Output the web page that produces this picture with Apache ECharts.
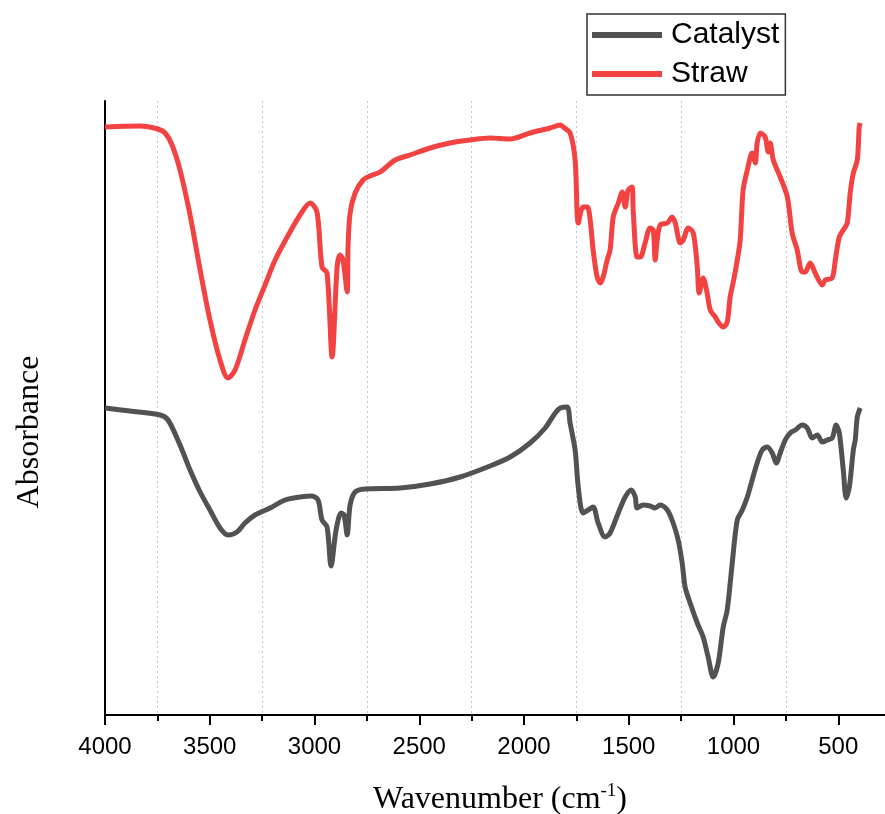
<!DOCTYPE html>
<html lang="en">
<head>
    <meta charset="UTF-8">
    <title>FTIR - Catalyst / Straw</title>
    <style type="text/css">
        *{
            margin: 0;
            padding: 0;
        }
        #main{
            width: 885px;
            height: 814px;
            position: absolute;
        }
    </style>
</head>
<body>
    <div id="main"></div>
    <script src="https://cdn.jsdelivr.net/npm/echarts@6/dist/echarts.min.js"></script>
    <script type="text/javascript">
        var myChart = echarts.init(document.getElementById('main'));

        // 图例 / 系列名
        var seriesNames = ['Catalyst', 'Straw'];
        // x轴刻度 (cm-1)
        var xTicks = [4000, 3500, 3000, 2500, 2000, 1500, 1000, 500];

        // [wavenumber, absorbance(a.u.)]
        var catalyst = [
            [4000,307],[3881,304],[3737,300],[3699,295],[3642,270],[3594,245],[3546,223],[3499,205],
            [3451,187],[3413,180],[3370,183],[3332,192],[3284,200],[3212,207],[3141,215],[3069,218],
            [3012,219],[2983,215],[2964,195],[2940,188],[2921,149],[2897,185],[2873,202],[2859,200],
            [2844,180],[2830,210],[2806,223],[2759,226],[2591,227],[2448,231],[2305,238],[2162,249],
            [2066,258],[1971,272],[1899,287],[1851,302],[1827,307],[1794,308],[1780,292],[1756,265],
            [1741,228],[1718,202],[1694,205],[1670,208],[1646,192],[1613,178],[1589,182],[1550,202],
            [1517,218],[1488,225],[1469,218],[1460,207],[1431,210],[1398,209],[1374,207],[1350,210],
            [1316,205],[1288,192],[1264,175],[1245,152],[1231,128],[1207,112],[1173,92],[1145,78],
            [1121,58],[1097,38],[1073,52],[1049,88],[1030,105],[1006,152],[982,195],[958,205],
            [934,218],[911,235],[887,252],[863,265],[839,268],[815,262],[796,252],[777,262],
            [753,275],[729,282],[705,285],[672,290],[648,287],[624,277],[600,280],[576,273],
            [552,275],[529,277],[510,290],[495,282],[476,245],[462,217],[447,228],[428,265],
            [419,275],[409,298],[395,307]
        ];
        var straw = [
            [4000,588],[3833,589],[3747,586],[3713,582],[3680,570],[3642,545],[3594,500],[3546,445],
            [3499,395],[3451,355],[3413,337],[3379,345],[3332,375],[3284,405],[3236,430],[3188,455],
            [3117,483],[3069,500],[3021,512],[2988,503],[2964,448],[2940,442],[2916,358],[2892,448],
            [2878,460],[2864,455],[2844,423],[2840,468],[2830,502],[2806,522],[2768,535],[2735,539],
            [2687,543],[2615,555],[2544,560],[2448,567],[2353,572],[2257,575],[2162,577],[2066,576],
            [1971,582],[1875,587],[1827,590],[1813,588],[1780,582],[1756,555],[1741,492],[1718,508],
            [1698,508],[1684,495],[1670,465],[1651,438],[1636,432],[1622,438],[1603,455],[1589,465],
            [1574,498],[1550,512],[1531,523],[1517,508],[1503,525],[1484,528],[1479,505],[1460,458],
            [1445,458],[1422,472],[1398,487],[1383,485],[1374,455],[1364,475],[1350,490],[1316,492],
            [1293,498],[1278,492],[1254,472],[1240,475],[1216,487],[1192,482],[1173,448],[1164,422],
            [1145,437],[1126,422],[1111,405],[1087,398],[1073,393],[1049,388],[1030,393],[1016,418],
            [1001,433],[982,455],[968,475],[954,525],[934,545],[911,562],[896,552],[887,572],
            [872,582],[849,578],[834,563],[825,572],[810,555],[777,538],[743,518],[720,482],
            [696,465],[672,443],[658,443],[634,452],[610,442],[576,430],[562,435],[529,437],
            [514,455],[495,478],[476,485],[457,492],[443,522],[428,542],[409,555],[400,588],[395,592]
        ];

        var option = {
            animation: false,
            backgroundColor: '#ffffff',
            grid: {
                left: 105,
                right: -58,
                top: 101,
                bottom: 99,
                outerBoundsMode: 'none'
            },
            legend: {
                data: seriesNames,
                orient: 'vertical',
                left: 587,
                top: 14,
                icon: 'rect',
                itemWidth: 70,
                itemHeight: 6,
                itemGap: 9,
                padding: [6, 6, 6, 5],
                borderWidth: 1.5,
                borderColor: '#333',
                textStyle: {
                    fontFamily: 'Liberation Sans',
                    fontSize: 30,
                    color: '#000',
                    padding: [0, 0, 0, 4]
                }
            },
            xAxis: {
                type: 'value',
                inverse: true,
                min: 0,
                max: xTicks[0],
                interval: 500,
                axisLine: { lineStyle: { color: '#000', width: 2 } },
                axisTick: { length: 10, lineStyle: { color: '#000', width: 2 } },
                minorTick: { show: true, splitNumber: 2, length: 6, lineStyle: { color: '#000', width: 2 } },
                splitLine: { show: false },
                minorSplitLine: { show: true, lineStyle: { color: '#c4c4c4', width: 1, type: [2, 3] } },
                axisLabel: {
                    margin: 20,
                    fontFamily: 'Liberation Sans',
                    fontSize: 24,
                    color: '#000',
                    formatter: function (v) {
                        return xTicks.indexOf(v) >= 0 ? String(v) : '';
                    }
                }
            },
            yAxis: {
                type: 'value',
                position: 'left',
                min: 0,
                max: 614,
                axisLine: { show: true, onZero: false, lineStyle: { color: '#000', width: 2 } },
                axisTick: { show: false },
                axisLabel: { show: false },
                splitLine: { show: false }
            },
            graphic: [
                {
                    type: 'text',
                    x: 500,
                    y: 800,
                    style: {
                        text: '{a|Wavenumber (cm}{s|-1}{a|)}',
                        align: 'center',
                        verticalAlign: 'middle',
                        rich: {
                            a: { fontFamily: 'Liberation Serif', fontSize: 32, color: '#000', lineHeight: 36 },
                            s: { fontFamily: 'Liberation Serif', fontSize: 19, color: '#000', verticalAlign: 'top', lineHeight: 36, padding: [0, 0, 14, 0] }
                        }
                    }
                },
                {
                    type: 'text',
                    x: 30,
                    y: 432,
                    rotation: Math.PI / 2,
                    style: {
                        text: 'Absorbance',
                        align: 'center',
                        verticalAlign: 'middle',
                        fontFamily: 'Liberation Serif',
                        fontSize: 32,
                        fill: '#000'
                    }
                }
            ],
            series: [
                {
                    name: seriesNames[0],
                    type: 'line',
                    data: catalyst,
                    showSymbol: false,
                    smooth: 0.3,
                    itemStyle: { color: '#525252' },
                    lineStyle: { color: '#525252', width: 5 }
                },
                {
                    name: seriesNames[1],
                    type: 'line',
                    data: straw,
                    showSymbol: false,
                    smooth: 0.3,
                    itemStyle: { color: '#F24242' },
                    lineStyle: { color: '#F24242', width: 5 }
                }
            ]
        };

        myChart.setOption(option);
    </script>
</body>
</html>
